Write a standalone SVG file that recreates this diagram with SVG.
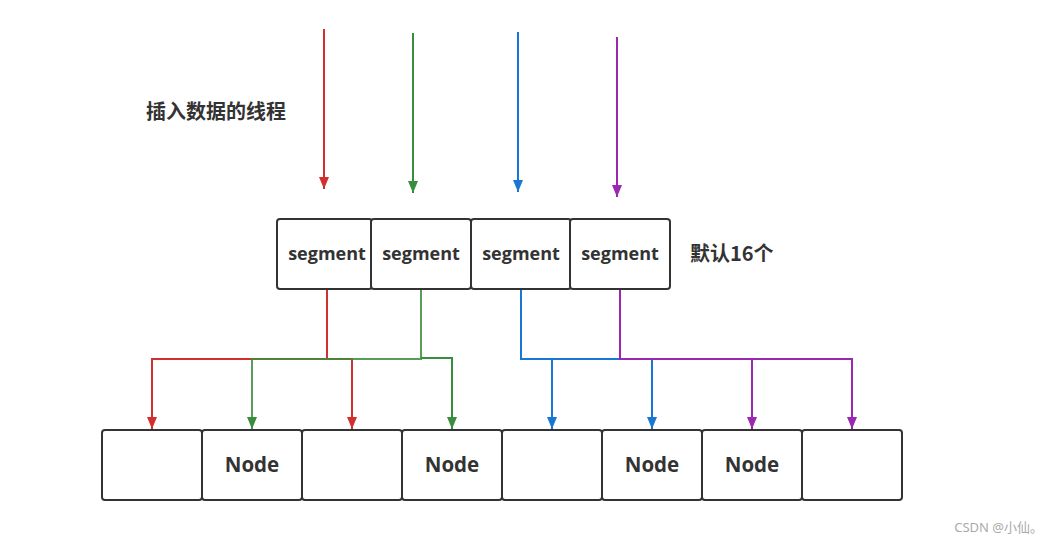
<svg xmlns="http://www.w3.org/2000/svg" width="1055" height="543" viewBox="0 0 1055 543">
<style>
.box{fill:#fff;stroke:#333;stroke-width:2}
.t{font-family:"Open Sans","Noto Sans","Noto Sans CJK SC",sans-serif;font-weight:bold;fill:#333;text-anchor:middle}
.seg{font-size:18px}
.node{font-size:20.5px}
.lbl{font-family:"Noto Sans CJK SC","Noto Sans",sans-serif;font-weight:bold;fill:#333;font-size:20px}
.c{fill:none;stroke-width:2}
.r{stroke:#d32f2f}.g{stroke:#388e3c}.b{stroke:#1976d2}.p{stroke:#9c27b0}
</style>
<defs>
<marker id="ar" viewBox="0 0 10 12" refX="5" refY="12" markerWidth="10" markerHeight="12" markerUnits="userSpaceOnUse"><path d="M0,0 L10,0 L5,12 Z" fill="#d32f2f"/></marker>
<marker id="ag" viewBox="0 0 10 12" refX="5" refY="12" markerWidth="10" markerHeight="12" markerUnits="userSpaceOnUse"><path d="M0,0 L10,0 L5,12 Z" fill="#388e3c"/></marker>
<marker id="ab" viewBox="0 0 10 12" refX="5" refY="12" markerWidth="10" markerHeight="12" markerUnits="userSpaceOnUse"><path d="M0,0 L10,0 L5,12 Z" fill="#1976d2"/></marker>
<marker id="ap" viewBox="0 0 10 12" refX="5" refY="12" markerWidth="10" markerHeight="12" markerUnits="userSpaceOnUse"><path d="M0,0 L10,0 L5,12 Z" fill="#9c27b0"/></marker>
</defs>
<rect width="1055" height="543" fill="#fff"/>
<text class="lbl" x="146" y="119">插入数据的线程</text>
<text class="lbl" x="690" y="261">默认16个</text>
<g id="connectors">
<path class="c r" d="M324,29 V189" marker-end="url(#ar)"/>
<path class="c g" d="M413,33 V193" marker-end="url(#ag)"/>
<path class="c b" d="M518,32 V192" marker-end="url(#ab)"/>
<path class="c p" d="M617,37 V197" marker-end="url(#ap)"/>
<path class="c r" d="M327,289 V359 H152 V429" marker-end="url(#ar)"/>
<path class="c r" d="M327,359 H352 V429" marker-end="url(#ar)"/>
<path class="c g" d="M421,289 V359 H252 V429" marker-end="url(#ag)" stroke-opacity="0.85"/>
<path class="c g" d="M421,358 H452 V429" marker-end="url(#ag)"/>
<path class="c b" d="M521,289 V359 H620" />
<path class="c b" d="M552,359 V429" marker-end="url(#ab)"/>
<path class="c b" d="M652,359 V429" marker-end="url(#ab)"/>
<path class="c p" d="M620,289 V359 H852 V429" marker-end="url(#ap)"/>
<path class="c p" d="M752,359 V429" marker-end="url(#ap)"/>
</g>
<g id="seg1"><rect class="box" x="277" y="219" width="95" height="70" rx="3"/><text class="t seg" x="327" y="260">segment</text></g>
<g id="seg2"><rect class="box" x="371" y="219" width="100" height="70" rx="3"/><text class="t seg" x="421" y="260">segment</text></g>
<g id="seg3"><rect class="box" x="471" y="219" width="100" height="70" rx="3"/><text class="t seg" x="521" y="260">segment</text></g>
<g id="seg4"><rect class="box" x="570" y="219" width="100" height="70" rx="3"/><text class="t seg" x="620" y="260">segment</text></g>
<g id="n1"><rect class="box" x="102" y="430" width="100" height="70" rx="3"/></g>
<g id="n2"><rect class="box" x="202" y="430" width="100" height="70" rx="3"/><text class="t node" x="252" y="472">Node</text></g>
<g id="n3"><rect class="box" x="302" y="430" width="100" height="70" rx="3"/></g>
<g id="n4"><rect class="box" x="402" y="430" width="100" height="70" rx="3"/><text class="t node" x="452" y="472">Node</text></g>
<g id="n5"><rect class="box" x="502" y="430" width="100" height="70" rx="3"/></g>
<g id="n6"><rect class="box" x="602" y="430" width="100" height="70" rx="3"/><text class="t node" x="652" y="472">Node</text></g>
<g id="n7"><rect class="box" x="702" y="430" width="100" height="70" rx="3"/><text class="t node" x="752" y="472">Node</text></g>
<g id="n8"><rect class="box" x="802" y="430" width="100" height="70" rx="3"/></g>
<text x="1043" y="532" font-family="'Noto Sans','Noto Sans CJK SC',sans-serif" font-size="13" fill="#aaa" text-anchor="end">CSDN @小仙。</text>
</svg>
